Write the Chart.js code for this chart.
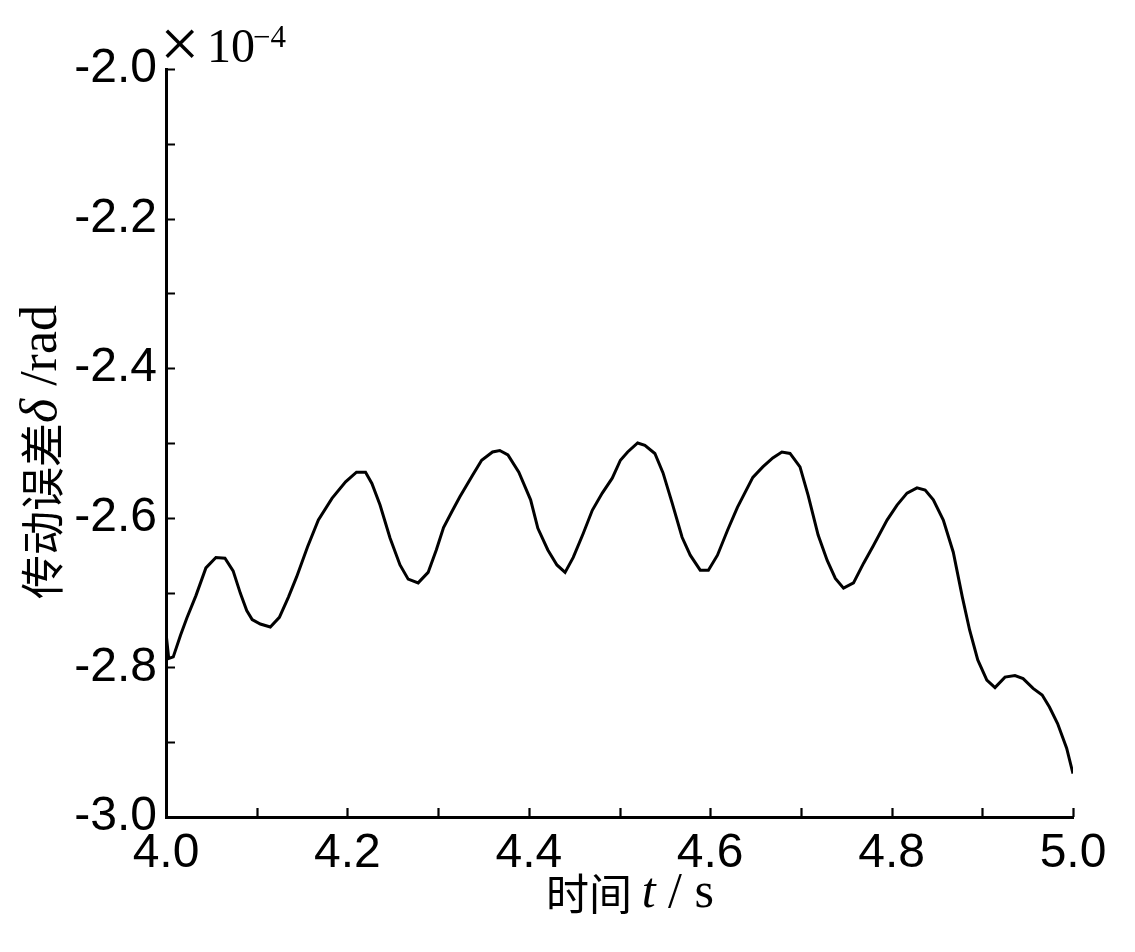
<!DOCTYPE html>
<html>
<head>
<meta charset="utf-8">
<title>传动误差</title>
<script src="https://cdn.jsdelivr.net/npm/chart.js@4.4.0/dist/chart.umd.min.js"></script>
<style>
  html, body { margin: 0; padding: 0; background: #fff; }
  #wrap { width: 1135px; height: 952px; }
</style>
</head>
<body>
<div id="wrap"><canvas id="error-chart" width="1135" height="952"></canvas></div>
<script>
// time t (s)
const times = [
  4.000, 4.003, 4.008, 4.016, 4.023, 4.033, 4.044, 4.055, 4.065, 4.074,
  4.082, 4.089, 4.095, 4.104, 4.115, 4.125, 4.135, 4.144, 4.156, 4.168,
  4.183, 4.198, 4.210, 4.220, 4.227, 4.236, 4.247, 4.258, 4.267, 4.278,
  4.289, 4.298, 4.306, 4.316, 4.324, 4.338, 4.348, 4.360, 4.368, 4.377,
  4.389, 4.402, 4.410, 4.421, 4.431, 4.440, 4.449, 4.460, 4.470, 4.481,
  4.492, 4.501, 4.509, 4.520, 4.528, 4.539, 4.548, 4.558, 4.569, 4.578,
  4.589, 4.598, 4.608, 4.619, 4.630, 4.647, 4.658, 4.669, 4.679, 4.688,
  4.699, 4.708, 4.719, 4.729, 4.738, 4.747, 4.758, 4.769, 4.780, 4.795,
  4.806, 4.817, 4.828, 4.837, 4.846, 4.857, 4.868, 4.878, 4.886, 4.895,
  4.905, 4.914, 4.925, 4.936, 4.945, 4.956, 4.966, 4.974, 4.983, 4.993,
  5.000
];

// transmission error delta (x 1e-4 rad)
const deltaValues = [
  -2.754, -2.788, -2.786, -2.757, -2.734, -2.704, -2.667, -2.653, -2.654, -2.671,
  -2.701, -2.724, -2.736, -2.742, -2.746, -2.733, -2.706, -2.679, -2.639, -2.603,
  -2.574, -2.552, -2.539, -2.539, -2.554, -2.583, -2.627, -2.663, -2.682, -2.687,
  -2.673, -2.643, -2.613, -2.590, -2.572, -2.543, -2.523, -2.512, -2.510, -2.516,
  -2.539, -2.576, -2.614, -2.643, -2.663, -2.673, -2.653, -2.621, -2.590, -2.567,
  -2.547, -2.523, -2.512, -2.500, -2.503, -2.514, -2.540, -2.580, -2.626, -2.650,
  -2.670, -2.670, -2.650, -2.617, -2.586, -2.546, -2.532, -2.520, -2.512, -2.514,
  -2.532, -2.570, -2.623, -2.657, -2.681, -2.694, -2.687, -2.661, -2.637, -2.603,
  -2.583, -2.567, -2.560, -2.563, -2.576, -2.603, -2.646, -2.706, -2.750, -2.790,
  -2.817, -2.827, -2.813, -2.811, -2.815, -2.828, -2.837, -2.853, -2.875, -2.908,
  -2.942
];

// labelled ticks
const xTickLabels = ['4.0', '4.2', '4.4', '4.6', '4.8', '5.0'];
const yTickLabels = ['-3.0', '-2.8', '-2.6', '-2.4', '-2.2', '-2.0'];

const LABEL_FONT = '"Liberation Sans", Arial, sans-serif';
const SERIF_FONT = '"Liberation Serif", "Times New Roman", serif';
const CJK_FONT = '"Noto Sans CJK SC", sans-serif';

function pickLabel(list, value) {
    const s = value.toFixed(1);
    return list.indexOf(s) >= 0 ? s : '';
}

// draw text pieces one after another, centred on x
function drawPieces(ctx, pieces, cx, cy) {
    let total = 0;
    pieces.forEach(p => { ctx.font = p.font; total += ctx.measureText(p.text).width; });
    let x = cx - total / 2;
    ctx.textBaseline = 'middle';
    ctx.textAlign = 'left';
    pieces.forEach(p => {
        ctx.font = p.font;
        ctx.fillText(p.text, x, cy + (p.dy || 0));
        x += ctx.measureText(p.text).width;
    });
}

// inward tick marks, axis titles and the x10^-4 factor
const decorPlugin = {
    id: 'decor',
    afterDraw(chart) {
        const ctx = chart.ctx;
        const xs = chart.scales.x;
        const ys = chart.scales.y;
        const area = chart.chartArea;
        ctx.save();
        ctx.strokeStyle = '#000';
        ctx.lineWidth = 2.2;
        ctx.beginPath();
        xs.ticks.forEach(t => {
            const px = Math.round(xs.getPixelForValue(t.value)) + 0.5;
            ctx.moveTo(px, area.bottom);
            ctx.lineTo(px, area.bottom - 9);
        });
        ys.ticks.forEach(t => {
            const py = Math.round(ys.getPixelForValue(t.value)) + 0.5;
            ctx.moveTo(area.left, py);
            ctx.lineTo(area.left + 9, py);
        });
        ctx.stroke();

        ctx.fillStyle = '#000';
        // x title
        drawPieces(ctx, [
            { text: '时间 ', font: '43px ' + CJK_FONT },
            { text: 't', font: 'italic 50px ' + SERIF_FONT },
            { text: ' / s', font: '50px ' + SERIF_FONT }
        ], 630, 894);

        // y title
        ctx.save();
        ctx.translate(42, 452);
        ctx.rotate(-Math.PI / 2);
        drawPieces(ctx, [
            { text: '传动误差', font: '44px ' + CJK_FONT },
            { text: 'δ', font: 'italic 52px ' + SERIF_FONT },
            { text: ' /rad', font: '52px ' + SERIF_FONT }
        ], 0, 0);
        ctx.restore();

        // exponent factor
        ctx.textAlign = 'left';
        ctx.textBaseline = 'alphabetic';
        ctx.font = '70px ' + SERIF_FONT;
        ctx.fillText('×', 160, 67);
        ctx.font = '48px ' + SERIF_FONT;
        ctx.fillText('10', 207, 62);
        ctx.font = '31px ' + SERIF_FONT;
        ctx.fillText('−4', 253, 47);
        ctx.restore();
    }
};

function createChart() {
    const ctx = document.getElementById('error-chart').getContext('2d');
    const points = times.map((t, i) => ({ x: t, y: deltaValues[i] }));
    return new Chart(ctx, {
        type: 'line',
        data: {
            datasets: [{
                data: points,
                borderColor: '#000',
                borderWidth: 3,
                pointRadius: 0,
                tension: 0,
                fill: false
            }]
        },
        options: {
            responsive: false,
            animation: false,
            layout: { padding: { left: 0, right: 62, top: 69, bottom: 0 } },
            plugins: {
                legend: { display: false },
                tooltip: { enabled: false }
            },
            scales: {
                x: {
                    type: 'linear',
                    min: 4.0,
                    max: 5.0,
                    border: { display: true, color: '#000', width: 3 },
                    grid: { display: true, drawOnChartArea: false, drawTicks: false },
                    ticks: {
                        stepSize: 0.1,
                        autoSkip: false,
                        maxRotation: 0,
                        padding: 8,
                        color: '#000',
                        font: { family: LABEL_FONT, size: 48 },
                        callback: v => pickLabel(xTickLabels, v)
                    },
                    afterFit: scale => { scale.height = 135; }
                },
                y: {
                    min: -3.0,
                    max: -2.0,
                    border: { display: true, color: '#000', width: 3 },
                    grid: { display: true, drawOnChartArea: false, drawTicks: false },
                    ticks: {
                        stepSize: 0.1,
                        autoSkip: false,
                        padding: 9,
                        color: '#000',
                        font: { family: LABEL_FONT, size: 48 },
                        callback: v => pickLabel(yTickLabels, v)
                    },
                    afterFit: scale => { scale.width = 166; }
                }
            }
        },
        plugins: [decorPlugin]
    });
}

document.addEventListener('DOMContentLoaded', function() {
    createChart();
});
</script>
</body>
</html>
